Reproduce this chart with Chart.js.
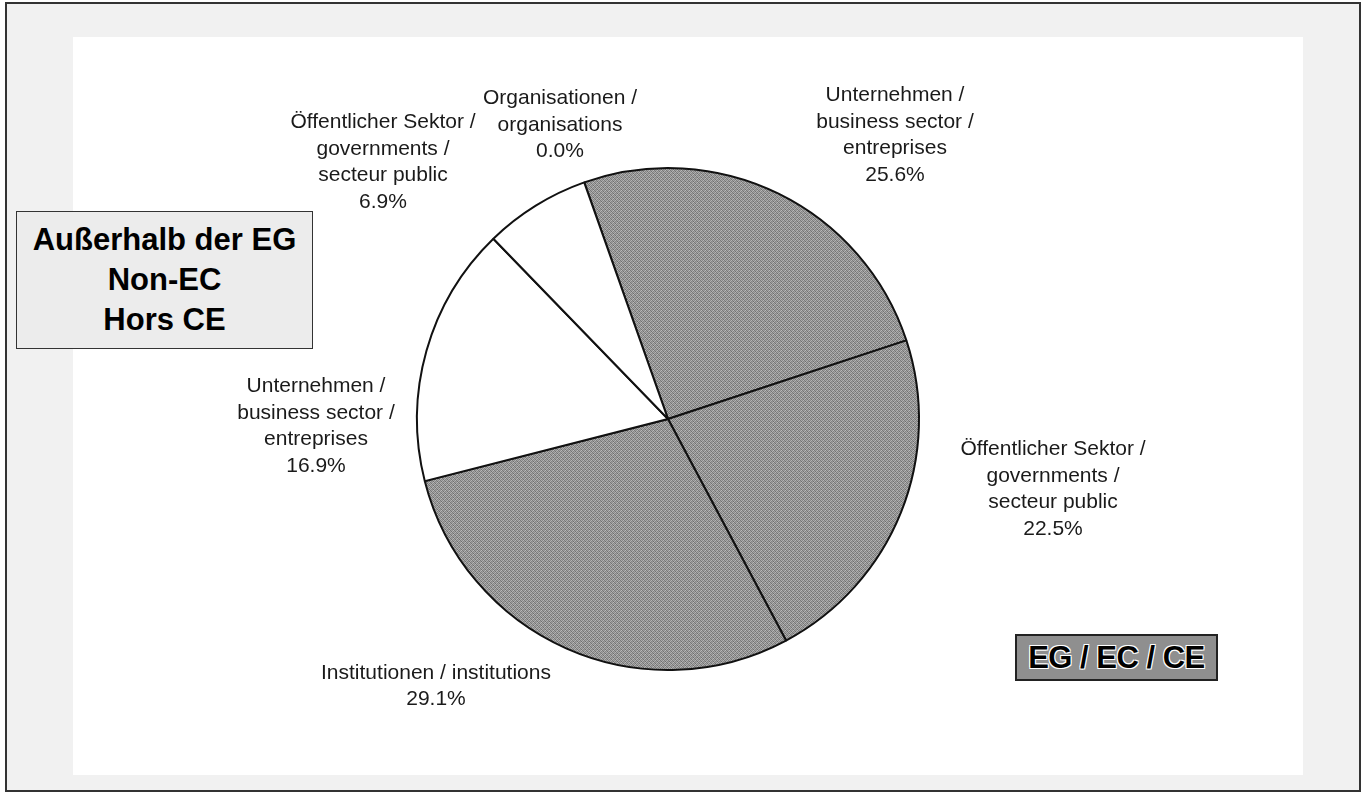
<!DOCTYPE html>
<html>
<head>
<meta charset="utf-8">
<script src="https://cdn.jsdelivr.net/npm/chart.js@4/dist/chart.umd.min.js"></script>
<style>
  html, body { margin: 0; padding: 0; background: #fff; }
  #page { position: relative; width: 1371px; height: 794px; overflow: hidden; font-family: "Liberation Sans", Arial, sans-serif; }
  #frame { position: absolute; left: 5px; top: 2px; width: 1352px; height: 786px; border: 2px solid #333; background: #f1f1f1; }
  #inner { position: absolute; left: 73px; top: 37px; width: 1230px; height: 738px; background: #fff; }
  #myChart { position: absolute; left: 0; top: 0; }
  .box { position: absolute; text-align: center; font-weight: bold; color: #000; white-space: nowrap; }
  #nonec { left: 16px; top: 211px; width: 297px; height: 138px; border: 1px solid #333; background: #ececec;
           font-size: 31px; line-height: 40px; padding-top: 8px; box-sizing: border-box; }
  #ec { left: 1015px; top: 634px; width: 203px; height: 47px; border: 2px solid #222; background: #8f8f8f;
        font-size: 31px; line-height: 43px; box-sizing: border-box; letter-spacing: -0.5px;
        text-shadow: -1px -1px 0 #fff, 1px -1px 0 #fff, -1px 1px 0 #fff, 1px 1px 0 #fff; }
</style>
</head>
<body>
<div id="page">
  <div id="frame"></div>
  <div id="inner"></div>
  <canvas id="myChart" width="1371" height="794"></canvas>
  <div class="box" id="nonec">Außerhalb der EG<br>Non-EC<br>Hors CE</div>
  <div class="box" id="ec">EG / EC / CE</div>
</div>
<script>
// slices, clockwise from the top-left boundary
const categories = [
  ['Unternehmen /', 'business sector /', 'entreprises'],
  ['Öffentlicher Sektor /', 'governments /', 'secteur public'],
  ['Institutionen / institutions'],
  ['Unternehmen /', 'business sector /', 'entreprises'],
  ['Öffentlicher Sektor /', 'governments /', 'secteur public'],
  ['Organisationen /', 'organisations']
]
const shares = [25.6, 22.5, 29.1, 16.9, 6.9, 0.0]
const region = ['EC', 'EC', 'EC', 'NonEC', 'NonEC', 'NonEC']

// label block centres, relative to pie centre (px)
const labelOffsets = [[227, -284], [385, 70], [-232, 267], [-352, 7], [-285, -257], [-108, -294]]

function greyPattern(ctx) {
    const c = document.createElement('canvas')
    c.width = 4; c.height = 4
    const g = c.getContext('2d')
    const shades = ['#7c7c7c', '#a8a8a8', '#8a8a8a', '#b4b4b4',
                    '#9c9c9c', '#6e6e6e', '#b0b0b0', '#868686',
                    '#8e8e8e', '#bcbcbc', '#787878', '#a0a0a0',
                    '#b2b2b2', '#848484', '#a4a4a4', '#727272']
    shades.forEach((s, i) => { g.fillStyle = s; g.fillRect(i % 4, Math.floor(i / 4), 1, 1) })
    return ctx.createPattern(c, 'repeat')
}

const sliceLabels = {
    id: 'sliceLabels',
    afterDraw(chart) {
        const ctx = chart.ctx
        const arcs = chart.getDatasetMeta(0).data
        ctx.save()
        ctx.font = '21px "Liberation Sans", Arial, sans-serif'
        ctx.fillStyle = '#1a1a1a'
        ctx.textAlign = 'center'
        ctx.textBaseline = 'middle'
        const lh = 26.5
        arcs.forEach((arc, i) => {
            const lines = categories[i].concat([shares[i].toFixed(1) + '%'])
            const cx = arc.x + labelOffsets[i][0]
            const cy = arc.y + labelOffsets[i][1]
            const top = cy - (lines.length - 1) * lh / 2
            lines.forEach((t, j) => ctx.fillText(t, cx, top + j * lh))
        })
        ctx.restore()
    }
}

const renderChart = (myChart) => {
    const pat = greyPattern(myChart)
    new Chart(myChart, {
        type: 'pie',
        data: {
            labels: categories.map(l => l.join(' ')),
            datasets: [{
                data: shares,
                backgroundColor: region.map(r => r === 'EC' ? pat : '#ffffff'),
                borderColor: '#111',
                borderWidth: 2
            }]
        },
        options: {
            responsive: false,
            animation: false,
            rotation: -19.5,
            layout: { padding: { left: 416, right: 451, top: 167, bottom: 123 } },
            plugins: {
                legend: { display: false },
                tooltip: { enabled: false }
            }
        },
        plugins: [sliceLabels]
    })
}

renderChart(document.getElementById('myChart').getContext('2d'))
</script>
</body>
</html>
